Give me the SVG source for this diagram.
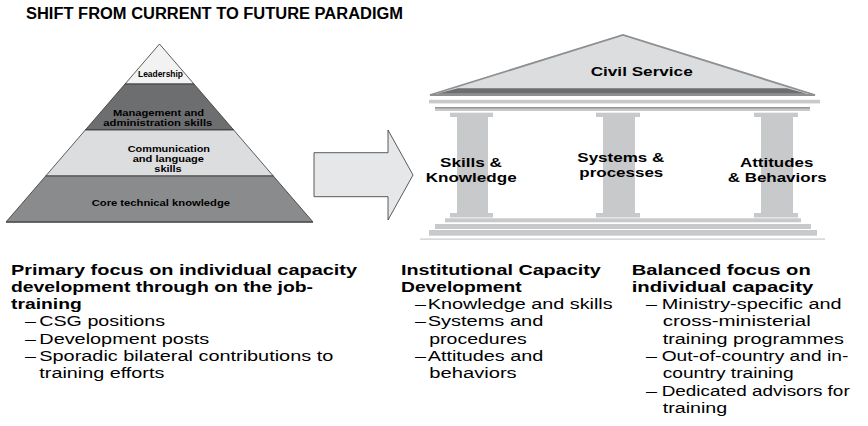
<svg xmlns="http://www.w3.org/2000/svg" width="868" height="426" viewBox="0 0 868 426">
<style>
text{font-family:"Liberation Sans",Arial,sans-serif;fill:#000}
.b{font-weight:bold}
.t{font-size:14px}
.p{font-size:9.3px;font-weight:bold}
.tl{font-size:13px;font-weight:bold}
.band{stroke:#333;stroke-width:0.8}
.gray{fill:#c8c9cb}
</style>
<rect width="868" height="426" fill="#fff"/>
<text id="title" class="b" x="26" y="18.5" font-size="16" textLength="377" lengthAdjust="spacingAndGlyphs">SHIFT FROM CURRENT TO FUTURE PARADIGM</text>

<g id="pyramid">
<polygon class="band" points="159.5,44 194,84 125,84" fill="#f2f2f2"/>
<polygon class="band" points="125,84 194,84 233.7,130 85.3,130" fill="#6d6e70"/>
<polygon class="band" points="85.3,130 233.7,130 273.3,176 45.7,176" fill="#dcdddf"/>
<polygon class="band" points="45.7,176 273.3,176 313,222 6,222" fill="#8a8b8d"/>
<line x1="6" y1="222" x2="313" y2="222" stroke="#555" stroke-width="1.5"/>
<text class="p" x="138" y="77" font-size="8" textLength="45" lengthAdjust="spacingAndGlyphs">Leadership</text>
<text class="p" x="113" y="116" textLength="91" lengthAdjust="spacingAndGlyphs">Management and</text>
<text class="p" x="103.3" y="126.3" textLength="109" lengthAdjust="spacingAndGlyphs">administration skills</text>
<text class="p" x="127.7" y="152" textLength="82.3" lengthAdjust="spacingAndGlyphs">Communication</text>
<text class="p" x="132.7" y="162.2" textLength="71.3" lengthAdjust="spacingAndGlyphs">and language</text>
<text class="p" x="154.3" y="172.4" textLength="27.4" lengthAdjust="spacingAndGlyphs">skills</text>
<text class="p" x="91.7" y="206" textLength="138.3" lengthAdjust="spacingAndGlyphs">Core technical knowledge</text>
</g>

<g id="connectors">
<polygon points="314,152.7 388,152.7 388,130 413,175 388,220 388,196.7 314,196.7" fill="#e6e7e8" stroke="#333" stroke-width="0.8"/>
</g>

<g id="temple">
<polygon points="430,95 623,35 815,95" fill="#dcdddf" stroke="#8e8f91" stroke-width="1.8" stroke-linejoin="miter"/>
<polygon points="458,88.3 787,88.3 807,93.8 437,93.8" fill="#6d6e70"/>
<rect class="gray" x="429" y="99.8" width="391" height="3.6"/>
<rect class="gray" x="435" y="107.6" width="375" height="3.4"/>
<line x1="435" y1="107.8" x2="810" y2="107.8" stroke="#555" stroke-width="0.8"/>
<rect class="gray" x="450" y="112.7" width="43" height="4.3"/>
<rect class="gray" x="457" y="117" width="31" height="96"/>
<rect class="gray" x="450" y="213" width="43" height="4.5"/>
<rect class="gray" x="596" y="112.7" width="44" height="4.3"/>
<rect class="gray" x="603" y="117" width="32" height="96"/>
<rect class="gray" x="596" y="213" width="44" height="4.5"/>
<rect class="gray" x="754" y="112.7" width="44" height="4.3"/>
<rect class="gray" x="761" y="117" width="32" height="96"/>
<rect class="gray" x="754" y="213" width="44" height="4.5"/>
<rect class="gray" x="445" y="218.3" width="356" height="4"/>
<rect class="gray" x="435" y="224" width="376" height="5"/>
<rect class="gray" x="429" y="230" width="388" height="5.7"/>
<rect class="gray" x="420" y="238.5" width="405" height="1.2"/>
<text class="tl" x="590.7" y="76.3" font-size="12.5" textLength="102" lengthAdjust="spacingAndGlyphs">Civil Service</text>
<text class="tl" x="440" y="167.3" textLength="62" lengthAdjust="spacingAndGlyphs">Skills &amp;</text>
<text class="tl" x="425.7" y="181.9" textLength="91" lengthAdjust="spacingAndGlyphs">Knowledge</text>
<text class="tl" x="577.3" y="161.7" textLength="87" lengthAdjust="spacingAndGlyphs">Systems &amp;</text>
<text class="tl" x="579.3" y="177.2" textLength="84" lengthAdjust="spacingAndGlyphs">processes</text>
<text class="tl" x="740" y="167.3" textLength="73.3" lengthAdjust="spacingAndGlyphs">Attitudes</text>
<text class="tl" x="727.7" y="182.2" textLength="99" lengthAdjust="spacingAndGlyphs">&amp; Behaviors</text>
</g>

<g id="current-focus">
<text class="t b" x="11" y="274.5" textLength="346" lengthAdjust="spacingAndGlyphs">Primary focus on individual capacity</text>
<text class="t b" x="11" y="291.8" textLength="302" lengthAdjust="spacingAndGlyphs">development through on the job-</text>
<text class="t b" x="11" y="309.1" textLength="70.7" lengthAdjust="spacingAndGlyphs">training</text>
<text class="t" x="25" y="326.4" textLength="11" lengthAdjust="spacingAndGlyphs">–</text>
<text class="t" x="39.3" y="326.4" textLength="125.7" lengthAdjust="spacingAndGlyphs">CSG positions</text>
<text class="t" x="25" y="343.7" textLength="11" lengthAdjust="spacingAndGlyphs">–</text>
<text class="t" x="39.3" y="343.7" textLength="170" lengthAdjust="spacingAndGlyphs">Development posts</text>
<text class="t" x="25" y="361" textLength="11" lengthAdjust="spacingAndGlyphs">–</text>
<text class="t" x="39.3" y="361" textLength="294" lengthAdjust="spacingAndGlyphs">Sporadic bilateral contributions to</text>
<text class="t" x="39.3" y="378.3" textLength="125" lengthAdjust="spacingAndGlyphs">training efforts</text>
</g>

<g id="institutional">
<text class="t b" x="401" y="274.5" textLength="199.7" lengthAdjust="spacingAndGlyphs">Institutional Capacity</text>
<text class="t b" x="401" y="291.8" textLength="120.7" lengthAdjust="spacingAndGlyphs">Development</text>
<text class="t" x="415" y="309.1" textLength="11" lengthAdjust="spacingAndGlyphs">–</text>
<text class="t" x="427.7" y="309.1" textLength="185" lengthAdjust="spacingAndGlyphs">Knowledge and skills</text>
<text class="t" x="415" y="326.4" textLength="11" lengthAdjust="spacingAndGlyphs">–</text>
<text class="t" x="427.7" y="326.4" textLength="115.6" lengthAdjust="spacingAndGlyphs">Systems and</text>
<text class="t" x="429.3" y="343.7" textLength="97.4" lengthAdjust="spacingAndGlyphs">procedures</text>
<text class="t" x="415" y="361" textLength="11" lengthAdjust="spacingAndGlyphs">–</text>
<text class="t" x="427.7" y="361" textLength="115.6" lengthAdjust="spacingAndGlyphs">Attitudes and</text>
<text class="t" x="429.3" y="378.3" textLength="87.4" lengthAdjust="spacingAndGlyphs">behaviors</text>
</g>

<g id="balanced">
<text class="t b" x="631.7" y="274.5" textLength="179" lengthAdjust="spacingAndGlyphs">Balanced focus on</text>
<text class="t b" x="631.7" y="291.8" textLength="181.6" lengthAdjust="spacingAndGlyphs">individual capacity</text>
<text class="t" x="646" y="309.1" textLength="11" lengthAdjust="spacingAndGlyphs">–</text>
<text class="t" x="661.7" y="309.1" textLength="180" lengthAdjust="spacingAndGlyphs">Ministry-specific and</text>
<text class="t" x="662.7" y="326.4" textLength="148" lengthAdjust="spacingAndGlyphs">cross-ministerial</text>
<text class="t" x="662.7" y="343.7" textLength="181.3" lengthAdjust="spacingAndGlyphs">training programmes</text>
<text class="t" x="646" y="361" textLength="11" lengthAdjust="spacingAndGlyphs">–</text>
<text class="t" x="661.7" y="361" textLength="186.6" lengthAdjust="spacingAndGlyphs">Out-of-country and in-</text>
<text class="t" x="662.7" y="378.3" textLength="131" lengthAdjust="spacingAndGlyphs">country training</text>
<text class="t" x="646" y="395.6" textLength="11" lengthAdjust="spacingAndGlyphs">–</text>
<text class="t" x="661.7" y="395.6" textLength="188" lengthAdjust="spacingAndGlyphs">Dedicated advisors for</text>
<text class="t" x="662.7" y="412.9" textLength="64.6" lengthAdjust="spacingAndGlyphs">training</text>
</g>
</svg>
